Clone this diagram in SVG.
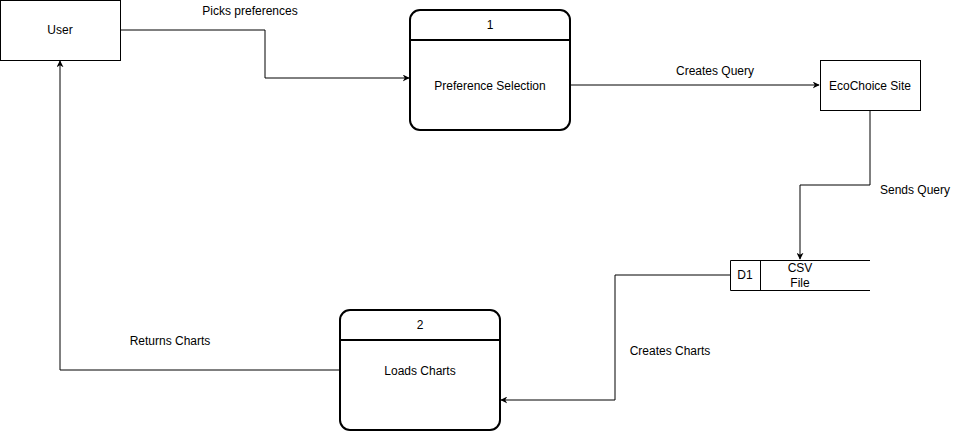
<svg xmlns="http://www.w3.org/2000/svg" width="961" height="432" viewBox="0 0 961 432">
<style>
.t{font-family:"Liberation Sans",Arial,sans-serif;font-size:12px;fill:#000;text-anchor:middle;dominant-baseline:central}
.box{fill:#fff;stroke:#000;stroke-width:1}
.proc{fill:#fff;stroke:#000;stroke-width:2}
.ln{fill:none;stroke:#000;stroke-width:1}
.edge{fill:none;stroke:#000;stroke-width:1;marker-end:url(#arr)}
</style>
<defs>
<marker id="arr" viewBox="0 0 10 10" refX="9" refY="5" markerWidth="7" markerHeight="7" markerUnits="userSpaceOnUse" orient="auto">
<path d="M0,0 L10,5 L0,10 L3,5 Z" fill="#000"/>
</marker>
</defs>
<rect width="961" height="432" fill="#fff"/>
<g id="connectors">
<path class="edge" d="M120,30 H265 V78 H409"/>
<text class="t" x="250" y="11">Picks preferences</text>
<path class="edge" d="M570,85 H819"/>
<text class="t" x="715" y="71">Creates Query</text>
<path class="edge" d="M870,110 V185 H800 V259"/>
<text class="t" x="915" y="190">Sends Query</text>
<path class="edge" d="M730,275 H615 V400 H501"/>
<text class="t" x="670" y="351">Creates Charts</text>
<path class="edge" d="M340,370 H60 V61"/>
<text class="t" x="170" y="341">Returns Charts</text>
</g>
<g id="user">
<rect class="box" x="0.5" y="0.5" width="120" height="60"/>
<text class="t" x="60" y="30">User</text>
</g>
<g id="process1">
<rect class="proc" x="410" y="10" width="160" height="120" rx="10" ry="10"/>
<line class="proc" x1="410" y1="40" x2="570" y2="40"/>
<text class="t" x="490" y="25">1</text>
<text class="t" x="490" y="86">Preference Selection</text>
</g>
<g id="ecochoice">
<rect class="box" x="820.5" y="60.5" width="100" height="50"/>
<text class="t" x="870" y="86">EcoChoice Site</text>
</g>
<g id="d1">
<path class="ln" d="M870,260.5 H730.5 V290.5 H870 M760.5,260.5 V290.5"/>
<text class="t" x="745" y="275">D1</text>
<text class="t" x="800" y="268">CSV</text>
<text class="t" x="800" y="283">File</text>
</g>
<g id="process2">
<rect class="proc" x="340" y="310" width="160" height="120" rx="10" ry="10"/>
<line class="proc" x1="340" y1="340" x2="500" y2="340"/>
<text class="t" x="420" y="325">2</text>
<text class="t" x="420" y="371">Loads Charts</text>
</g>
</svg>
